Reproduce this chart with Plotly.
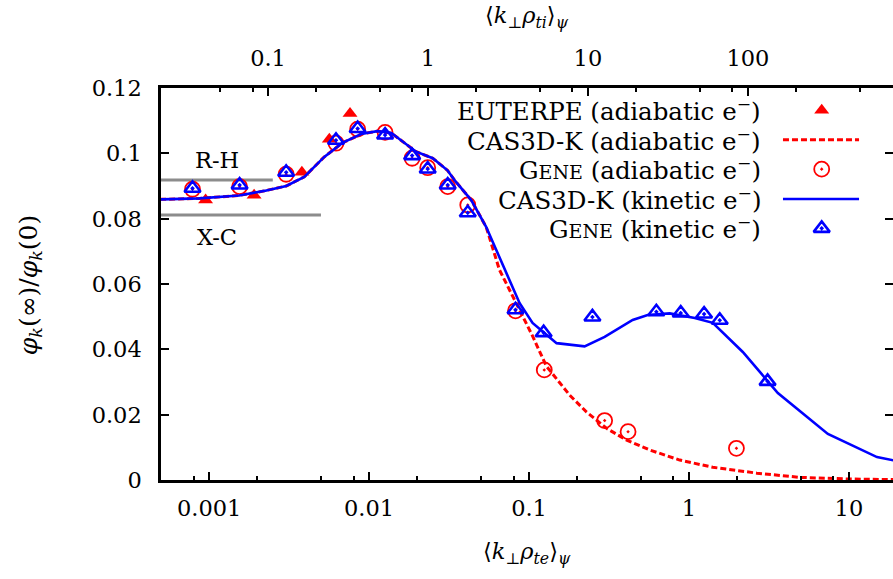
import numpy as np
import plotly.graph_objects as go

# ---------------- data ----------------
mass_ratio_sqrt = 42.85  # k_perp rho_ti / k_perp rho_te

euterpe_k = [0.00095, 0.00191, 0.0038, 0.00564, 0.0076]
euterpe_phi = [0.0857, 0.0872, 0.0942, 0.1043, 0.1122]

cas_adi_k = [0.000494, 0.000866, 0.001541, 0.002209, 0.003034, 0.003933, 0.005247,
             0.006801, 0.008944, 0.011261, 0.013779, 0.01967, 0.0250, 0.0309,
             0.0342, 0.0435, 0.0539, 0.06535, 0.08316, 0.10563, 0.12812,
             0.15522, 0.17930, 0.22911, 0.30557, 0.40762, 0.56780, 0.87521,
             1.4086, 2.6555, 4.9346, 10.146, 19.97]
cas_adi_phi = [0.0859, 0.0862, 0.0871, 0.0885, 0.0900, 0.0928, 0.0989,
               0.1032, 0.1059, 0.1068, 0.1062, 0.1005, 0.0985, 0.0948,
               0.0918, 0.0857, 0.0775, 0.0643, 0.0541, 0.0439, 0.0349,
               0.0297, 0.0260, 0.0208, 0.0158, 0.0122, 0.0092, 0.0061,
               0.0039, 0.0021, 0.0008, 0.0003, 0.0001]

gene_adi_k = [0.000787, 0.00155, 0.00303, 0.00621, 0.00848, 0.01259, 0.01858, 0.02325,
              0.03101, 0.04139, 0.0823, 0.1245, 0.297, 0.416, 1.98]
gene_adi_phi = [0.0890, 0.0898, 0.0936, 0.1031, 0.1074, 0.1064, 0.0985, 0.0956,
                0.0898, 0.0842, 0.0518, 0.0337, 0.0182, 0.0148, 0.0097]

cas_kin_k = [0.000494, 0.000866, 0.001541, 0.002209, 0.003034, 0.003933, 0.005247,
             0.006801, 0.008944, 0.011261, 0.013779, 0.01967, 0.0250, 0.0309,
             0.0342, 0.0435, 0.0539, 0.072300, 0.087200, 0.10517, 0.14863,
             0.22252, 0.29701, 0.44446, 0.55183, 0.75765, 1.0864, 1.4086, 2.1697,
             2.7730, 3.5940, 7.3860, 14.975, 19.97]
cas_kin_phi = [0.0859, 0.0862, 0.0871, 0.0885, 0.0900, 0.0928, 0.0989,
               0.1032, 0.1059, 0.1068, 0.1062, 0.1005, 0.0985, 0.0948,
               0.0918, 0.0857, 0.0775, 0.0634, 0.0542, 0.0481, 0.0419,
               0.0409, 0.0438, 0.0490, 0.0505, 0.0510, 0.0496, 0.0481, 0.0392,
               0.0331, 0.0266, 0.0141, 0.0070, 0.0058]

gene_kin_k = [0.000787, 0.00155, 0.00303, 0.00621, 0.00848, 0.01259, 0.01858, 0.02325,
              0.03101, 0.04139, 0.0823, 0.1234, 0.249, 0.625, 0.888, 1.243, 1.557, 3.10]
gene_kin_phi = [0.0893, 0.0903, 0.0942, 0.1040, 0.1076, 0.1056, 0.0993, 0.0952,
                0.0903, 0.0818, 0.0521, 0.0451, 0.0499, 0.0515, 0.0511, 0.0508, 0.0489, 0.0302]

rh_k = [0.0005, 0.0025]
rh_phi = [0.0918, 0.0918]
xc_k = [0.0005, 0.005]
xc_phi = [0.0811, 0.0811]

x_range = [0.0005, 18.86]
y_range = [0, 0.12]
x_ticks = [0.001, 0.01, 0.1, 1, 10]
x_ticktext = ["0.001", "0.01", "0.1", "1", "10"]
x_minor = [m * 10.0 ** e for e in range(-4, 2) for m in (2, 5, 8)]
x2_ticks = [0.1, 1, 10, 100]
x2_ticktext = ["0.1", "1", "10", "100"]
x2_minor = [m * 10.0 ** e for e in range(-2, 3) for m in (2, 5, 8)]
y_ticks = [0, 0.02, 0.04, 0.06, 0.08, 0.1, 0.12]
y_ticktext = ["0", "0.02", "0.04", "0.06", "0.08", "0.1", "0.12"]

# ---------------- styles ----------------
FONT = "DejaVu Serif"
FS = 22.5
RED = "#ff0000"
BLUE = "#0000ff"
GRAY = "#8c8c8c"
GENE = "G<span style='font-size:19px'>ENE</span>"
sup = " e<sup>−</sup>)"

fig = go.Figure()

# invisible anchors so the top x axis and the right y axis get drawn
fig.add_trace(go.Scatter(x=[1], y=[0.05], xaxis="x2", yaxis="y", mode="markers",
                         marker=dict(size=1, opacity=0), showlegend=False, hoverinfo="skip"))
fig.add_trace(go.Scatter(x=[1], y=[0.05], xaxis="x", yaxis="y2", mode="markers",
                         marker=dict(size=1, opacity=0), showlegend=False, hoverinfo="skip"))

fig.add_trace(go.Scatter(x=rh_k, y=rh_phi, mode="lines", line=dict(color=GRAY, width=3),
                         showlegend=False, hoverinfo="skip"))
fig.add_trace(go.Scatter(x=xc_k, y=xc_phi, mode="lines", line=dict(color=GRAY, width=3),
                         showlegend=False, hoverinfo="skip"))

fig.add_trace(go.Scatter(x=euterpe_k, y=euterpe_phi, mode="markers",
                         marker=dict(symbol="triangle-up", size=13, color=RED, line=dict(width=0)),
                         showlegend=False))
fig.add_trace(go.Scatter(x=cas_adi_k, y=cas_adi_phi, mode="lines",
                         line=dict(color=RED, width=3, dash="6px,3px"), showlegend=False))
fig.add_trace(go.Scatter(x=gene_adi_k, y=gene_adi_phi, mode="markers",
                         marker=dict(symbol="circle-open-dot", size=15, color=RED,
                                     line=dict(width=1.8, color=RED)), showlegend=False))
fig.add_trace(go.Scatter(x=cas_kin_k, y=cas_kin_phi, mode="lines",
                         line=dict(color=BLUE, width=2.6), showlegend=False))
fig.add_trace(go.Scatter(x=gene_kin_k, y=gene_kin_phi, mode="markers",
                         marker=dict(symbol="triangle-up-open-dot", size=14, color=BLUE,
                                     line=dict(width=2.6, color=BLUE)), showlegend=False))

# ---------------- manual gnuplot-style key ----------------
key_labels = ["EUTERPE (adiabatic" + sup, "CAS3D-K (adiabatic" + sup, GENE + " (adiabatic" + sup,
              "CAS3D-K (kinetic" + sup, GENE + " (kinetic" + sup]
key_rows = [0.943, 0.868, 0.793, 0.717, 0.642]
key_x_text = 0.8224
key_sym_x = 0.9026
key_line_x = [0.8497, 0.9536]

fig.add_trace(go.Scatter(x=[key_sym_x], y=[key_rows[0]], xaxis="x3", yaxis="y3", mode="markers",
                         marker=dict(symbol="triangle-up", size=13, color=RED, line=dict(width=0)),
                         showlegend=False, hoverinfo="skip"))
fig.add_trace(go.Scatter(x=key_line_x, y=[key_rows[1]] * 2, xaxis="x3", yaxis="y3", mode="lines",
                         line=dict(color=RED, width=3, dash="6px,3px"), showlegend=False, hoverinfo="skip"))
fig.add_trace(go.Scatter(x=[key_sym_x], y=[key_rows[2]], xaxis="x3", yaxis="y3", mode="markers",
                         marker=dict(symbol="circle-open-dot", size=15, color=RED,
                                     line=dict(width=1.8, color=RED)), showlegend=False, hoverinfo="skip"))
fig.add_trace(go.Scatter(x=key_line_x, y=[key_rows[3]] * 2, xaxis="x3", yaxis="y3", mode="lines",
                         line=dict(color=BLUE, width=2.6), showlegend=False, hoverinfo="skip"))
fig.add_trace(go.Scatter(x=[key_sym_x], y=[key_rows[4]], xaxis="x3", yaxis="y3", mode="markers",
                         marker=dict(symbol="triangle-up-open-dot", size=14, color=BLUE,
                                     line=dict(width=2.6, color=BLUE)), showlegend=False, hoverinfo="skip"))

annotations = []
for lab, yr in zip(key_labels, key_rows):
    annotations.append(dict(text=lab, x=key_x_text, y=yr, xref="paper", yref="paper",
                            xanchor="right", yanchor="middle", showarrow=False,
                            font=dict(family=FONT, size=24.5, color="black")))

annotations.append(dict(text="R-H", x=np.log10(0.00112), y=0.0980, xref="x", yref="y",
                        xanchor="center", yanchor="middle", showarrow=False,
                        font=dict(family=FONT, size=FS, color="black")))
annotations.append(dict(text="X-C", x=np.log10(0.00112), y=0.0744, xref="x", yref="y",
                        xanchor="center", yanchor="middle", showarrow=False,
                        font=dict(family=FONT, size=FS, color="black")))

annotations.append(dict(text="⟨<i>k</i><sub>⊥</sub><i>ρ</i><sub><i>te</i></sub>⟩<sub><i>ψ</i></sub>",
                        x=0.5, y=-0.186, xref="paper", yref="paper", xanchor="center", yanchor="middle",
                        showarrow=False, font=dict(family=FONT, size=FS, color="black")))
annotations.append(dict(text="⟨<i>k</i><sub>⊥</sub><i>ρ</i><sub><i>ti</i></sub>⟩<sub><i>ψ</i></sub>",
                        x=0.5, y=1.18, xref="paper", yref="paper", xanchor="center", yanchor="middle",
                        showarrow=False, font=dict(family=FONT, size=FS, color="black")))
annotations.append(dict(text="<i>φ</i><sub><i>k</i></sub>(∞)/<i>φ</i><sub><i>k</i></sub>(0)",
                        x=-0.179, y=0.497, xref="paper", yref="paper", xanchor="center", yanchor="middle",
                        textangle=-90, showarrow=False, font=dict(family=FONT, size=25, color="black")))

axis_font = dict(family=FONT, size=FS, color="black")

fig.update_layout(
    width=893, height=579,
    margin=dict(l=161, r=0, t=88, b=99),
    paper_bgcolor="white", plot_bgcolor="white",
    showlegend=False,
    annotations=annotations,
    xaxis=dict(type="log", range=[np.log10(x_range[0]), np.log10(x_range[1])],
               tickmode="array", tickvals=x_ticks, ticktext=x_ticktext,
               ticks="inside", ticklen=8, tickwidth=2, tickcolor="black",
               minor=dict(tickmode="array", tickvals=x_minor, ticks="inside", ticklen=4,
                          tickwidth=2, tickcolor="black", showgrid=False),
               showline=True, linewidth=2.5, linecolor="black", mirror=False,
               showgrid=False, zeroline=False, tickfont=axis_font, ticklabelstandoff=6),
    xaxis2=dict(type="log", overlaying="x", side="top", anchor="y",
                range=[np.log10(x_range[0] * mass_ratio_sqrt), np.log10(x_range[1] * mass_ratio_sqrt)],
                tickmode="array", tickvals=x2_ticks, ticktext=x2_ticktext,
                ticks="inside", ticklen=8, tickwidth=2, tickcolor="black",
                minor=dict(tickmode="array", tickvals=x2_minor, ticks="inside", ticklen=4,
                           tickwidth=2, tickcolor="black", showgrid=False),
                showline=True, linewidth=2.5, linecolor="black",
                showgrid=False, zeroline=False, tickfont=axis_font, ticklabelstandoff=10),
    yaxis=dict(range=y_range, tickmode="array", tickvals=y_ticks, ticktext=y_ticktext,
               ticks="inside", ticklen=8, tickwidth=2, tickcolor="black",
               showline=True, linewidth=2.5, linecolor="black", mirror=False,
               showgrid=False, zeroline=False, tickfont=axis_font, ticklabelstandoff=12),
    yaxis2=dict(range=y_range, overlaying="y", side="right", anchor="x",
                tickmode="array", tickvals=y_ticks, ticks="inside", ticklen=8, tickwidth=2,
                tickcolor="black", showticklabels=False, showline=False,
                showgrid=False, zeroline=False),
    xaxis3=dict(range=[0, 1], overlaying="x", visible=False, fixedrange=True),
    yaxis3=dict(range=[0, 1], overlaying="y", visible=False, fixedrange=True),
)

fig.write_html("out.html")
